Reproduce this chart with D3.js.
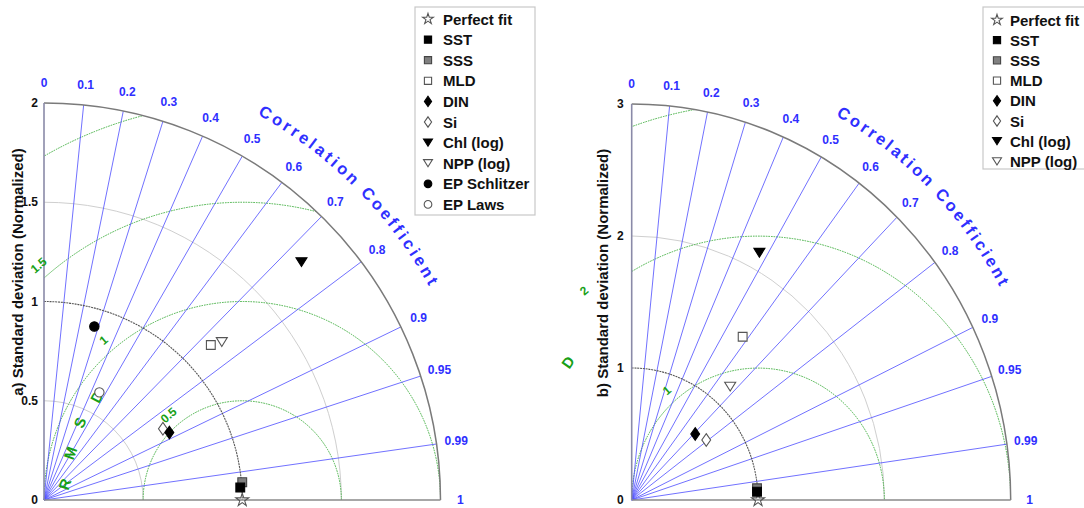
<!DOCTYPE html>
<html>
<head>
<meta charset="utf-8">
<script src="https://cdn.jsdelivr.net/npm/d3@7"></script>
<style>
  body { margin: 0; background: #fff; }
  svg { display: block; }
  text { font-family: "Liberation Sans", Arial, Helvetica, sans-serif; }
</style>
</head>
<body>
<svg id="chart" width="1084" height="508"></svg>
<script>
// ---- Data -------------------------------------------------------------
const corrTicks = [0, 0.1, 0.2, 0.3, 0.4, 0.5, 0.6, 0.7, 0.8, 0.9, 0.95, 0.99, 1];
const corrTickLabels = ["0", "0.1", "0.2", "0.3", "0.4", "0.5", "0.6", "0.7", "0.8", "0.9", "0.95", "0.99", "1"];

// Panel a: normalized standard deviation and correlation per variable
const seriesA = ["SST", "SSS", "MLD", "DIN", "Si", "Chl (log)", "NPP (log)", "EP Schlitzer", "EP Laws"];
const stdA    = [0.992, 1.004, 1.148, 0.718, 0.699, 1.767, 1.199, 0.910, 0.610];
const corrA   = [0.998, 0.996, 0.733, 0.881, 0.858, 0.735, 0.748, 0.279, 0.458];
const sdTicksA = [0, 0.5, 1, 1.5, 2];
const sdTickLabelsA = ["0", "0.5", "1", "1.5", "2"];
const rmsLevelsA = [0.5, 1, 1.5, 2];
const rmsLabelsA = [0.5, 1, 1.5];

// Panel b
const seriesB = ["SST", "SSS", "MLD", "DIN", "Si", "Chl (log)", "NPP (log)"];
const stdB    = [0.994, 0.996, 1.517, 0.709, 0.745, 2.128, 1.160];
const corrB   = [0.998, 0.996, 0.579, 0.709, 0.792, 0.475, 0.672];
const sdTicksB = [0, 1, 2, 3];
const sdTickLabelsB = ["0", "1", "2", "3"];
const rmsLevelsB = [1, 2, 3];
const rmsLabelsB = [1, 2];

const corrTitle = "Correlation Coefficient";

// ---- Styles -----------------------------------------------------------
const BLUE_LINE = "#4d4dff";
const BLUE_TEXT = "#2f2fff";
const GREEN_LINE = "#45b045";
const GREEN_TEXT = "#17a017";
const OPEN_STROKE = "#555";

const markerStyle = {
  "Perfect fit":  { shape: "star",     fill: "none",    stroke: OPEN_STROKE },
  "SST":          { shape: "square",   fill: "#000",    stroke: "#000" },
  "SSS":          { shape: "square",   fill: "#808080", stroke: "#444" },
  "MLD":          { shape: "square",   fill: "#fff",    stroke: OPEN_STROKE },
  "DIN":          { shape: "diamond",  fill: "#000",    stroke: "#000" },
  "Si":           { shape: "diamond",  fill: "#fff",    stroke: OPEN_STROKE },
  "Chl (log)":    { shape: "triangle", fill: "#000",    stroke: "#000" },
  "NPP (log)":    { shape: "triangle", fill: "#fff",    stroke: OPEN_STROKE },
  "EP Schlitzer": { shape: "circle",   fill: "#000",    stroke: "#000" },
  "EP Laws":      { shape: "circle",   fill: "#fff",    stroke: OPEN_STROKE }
};

function shapePath(shape, s) {
  // s: nominal marker size in px
  const h = s / 2;
  switch (shape) {
    case "square":   return `M${-h * 0.8},${-h * 0.8}H${h * 0.8}V${h * 0.8}H${-h * 0.8}Z`;
    case "diamond":  return `M0,${-h * 1.15}L${h * 0.8},0L0,${h * 1.15}L${-h * 0.8},0Z`;
    case "triangle": return `M${-h},${-h * 0.8}L${h},${-h * 0.8}L0,${h * 0.8}Z`;
    case "circle":   return d3.symbol(d3.symbolCircle, Math.PI * (h * 0.85) ** 2)();
    case "star":     return d3.symbol(d3.symbolStar, s * s * 0.36)();
  }
}

const svg = d3.select("#chart");

function drawMarker(g, name, cx, cy, s) {
  const st = markerStyle[name];
  g.append("path")
    .attr("d", shapePath(st.shape, s))
    .attr("transform", `translate(${cx},${cy})`)
    .attr("fill", st.fill)
    .attr("stroke", st.stroke)
    .attr("stroke-width", 1.1);
}

// Lay out a string letter by letter along a path, spread to fill its length
function textAlongPath(g, pathNode, str, attrs) {
  const L = pathNode.getTotalLength();
  const chars = str.split("");
  const tmp = g.append("text").attr("font-size", attrs.size).attr("font-weight", "bold");
  const widths = chars.map(ch => {
    tmp.text(ch === " " ? "\u00a0" : ch);
    return tmp.node().getComputedTextLength();
  });
  tmp.remove();
  const gap = (L - d3.sum(widths)) / (chars.length - 1);
  let pos = 0;
  chars.forEach((ch, i) => {
    const mid = pos + widths[i] / 2;
    const p = pathNode.getPointAtLength(mid);
    const pa = pathNode.getPointAtLength(Math.max(0, mid - 1));
    const pb = pathNode.getPointAtLength(Math.min(L, mid + 1));
    const ang = Math.atan2(pb.y - pa.y, pb.x - pa.x) * 180 / Math.PI;
    if (ch !== " ") {
      g.append("text")
        .attr("transform", `translate(${p.x},${p.y}) rotate(${ang})`)
        .attr("text-anchor", "middle")
        .attr("fill", attrs.fill).attr("font-size", attrs.size).attr("font-weight", "bold")
        .text(ch);
    }
    pos += widths[i] + gap;
  });
}

// ---- One Taylor diagram -------------------------------------------------
function drawPanel(cfg) {
  const g = svg.append("g");
  const x = d3.scaleLinear().domain([0, cfg.max]).range([cfg.x0, cfg.x1]);
  const y = d3.scaleLinear().domain([0, cfg.max]).range([cfg.y0, cfg.y1]);
  const kx = x(1) - x(0), ky = y(0) - y(1);
  const sinOf = c => Math.sqrt(Math.max(0, 1 - c * c));
  const px = (r, c) => x(r * c);
  const py = (r, c) => y(r * sinOf(c));
  const sdArc = r => `M${x(0)},${y(r)} A${r * kx},${r * ky} 0 0 1 ${x(r)},${y(0)}`;

  // clip region: the quarter disc of the diagram
  const clipId = "clip-" + cfg.id;
  g.append("clipPath").attr("id", clipId)
    .append("path")
    .attr("d", `M${x(0)},${y(0)} L${x(cfg.max)},${y(0)} A${cfg.max * kx},${cfg.max * ky} 0 0 0 ${x(0)},${y(cfg.max)} Z`);

  // light std-dev reference arcs
  cfg.sdTicks.filter(v => v > 0 && v < cfg.max && v !== 1).forEach(v => {
    g.append("path").attr("d", sdArc(v)).attr("fill", "none")
      .attr("stroke", "#cfcfcf").attr("stroke-width", 1);
  });

  // RMSD circles centred on the reference point
  const rms = g.append("g").attr("clip-path", `url(#${clipId})`);
  cfg.rmsLevels.forEach(R => {
    rms.append("path")
      .attr("d", `M${x(1 - R)},${y(0)} A${R * kx},${R * ky} 0 0 1 ${x(1 + R)},${y(0)}`)
      .attr("fill", "none").attr("stroke", GREEN_LINE)
      .attr("stroke-width", 1).attr("stroke-dasharray", "1.6,1");
  });

  // correlation rays
  corrTicks.filter(c => c > 0 && c < 1).forEach(c => {
    g.append("line")
      .attr("x1", x(0)).attr("y1", y(0))
      .attr("x2", px(cfg.max, c)).attr("y2", py(cfg.max, c))
      .attr("stroke", BLUE_LINE).attr("stroke-opacity", 0.8).attr("stroke-width", 1);
  });

  // reference std-dev arc (= 1)
  g.append("path").attr("d", sdArc(1)).attr("fill", "none")
    .attr("stroke", "#555").attr("stroke-width", 1.1).attr("stroke-dasharray", "2,0.8");

  // outer arc and axes
  g.append("path").attr("d", sdArc(cfg.max)).attr("fill", "none")
    .attr("stroke", "#7a7a7a").attr("stroke-width", 1.5);
  g.append("line").attr("x1", x(0)).attr("y1", y(0)).attr("x2", x(cfg.max)).attr("y2", y(0))
    .attr("stroke", "#8a8a8a").attr("stroke-width", 1.5);
  g.append("line").attr("x1", x(0)).attr("y1", y(0)).attr("x2", x(0)).attr("y2", y(cfg.max))
    .attr("stroke", "#8a8aa8").attr("stroke-width", 1.6);

  // correlation tick labels
  corrTicks.forEach((c, i) => {
    g.append("text")
      .attr("x", px(cfg.max * 1.05, c)).attr("y", py(cfg.max * 1.05, c))
      .attr("text-anchor", "middle").attr("dominant-baseline", "central")
      .attr("fill", BLUE_TEXT).attr("font-size", 12).attr("font-weight", "bold")
      .text(corrTickLabels[i]);
  });

  // curved correlation title
  const rt = cfg.max * 1.11;
  const a0 = 61 * Math.PI / 180, a1 = 29 * Math.PI / 180;
  const titlePath = g.append("path").attr("fill", "none")
    .attr("d", `M${x(rt * Math.cos(a0))},${y(rt * Math.sin(a0))} A${rt * kx},${rt * ky} 0 0 1 ${x(rt * Math.cos(a1))},${y(rt * Math.sin(a1))}`);
  textAlongPath(g, titlePath.node(), corrTitle, { size: 16.5, fill: BLUE_TEXT });

  // std-dev tick labels
  cfg.sdTicks.forEach((v, i) => {
    g.append("text")
      .attr("x", x(0) - cfg.tickPad).attr("y", y(v))
      .attr("text-anchor", "end").attr("dominant-baseline", "central")
      .attr("fill", "#111").attr("font-size", 12).attr("font-weight", "bold")
      .text(cfg.sdTickLabels[i]);
  });

  // RMSD level labels
  const la = 131 * Math.PI / 180;
  cfg.rmsLabels.forEach(R => {
    const d = R + 0.033 * cfg.max;
    g.append("text")
      .attr("transform", `translate(${x(1 + d * Math.cos(la))},${y(d * Math.sin(la))}) rotate(-41)`)
      .attr("text-anchor", "middle").attr("dominant-baseline", "central")
      .attr("fill", GREEN_TEXT).attr("font-size", 12).attr("font-weight", "bold")
      .text(R);
  });

  // "RMSD" letters
  cfg.rmsdLetters.forEach(L => {
    g.append("text")
      .attr("transform", `translate(${x(L.x)},${y(L.y)}) rotate(${L.rot})`)
      .attr("text-anchor", "middle").attr("dominant-baseline", "central")
      .attr("fill", GREEN_TEXT).attr("font-size", 15).attr("font-weight", "bold")
      .text(L.t);
  });

  // y-axis title
  g.append("text")
    .attr("transform", `translate(${cfg.titleX},${cfg.titleY}) rotate(-90)`)
    .attr("text-anchor", "middle").attr("dominant-baseline", "central")
    .attr("fill", "#111").attr("font-size", 15).attr("font-weight", "bold")
    .text(cfg.title);

  // data points (drawn last-to-first so earlier series sit on top)
  drawMarker(g, "Perfect fit", x(1), y(0), 12);
  const idx = d3.range(cfg.series.length).reverse();
  idx.forEach(i => {
    drawMarker(g, cfg.series[i], px(cfg.std[i], cfg.corr[i]), py(cfg.std[i], cfg.corr[i]), 11);
  });

  // legend
  const lg = svg.append("g");
  const names = ["Perfect fit"].concat(cfg.series);
  lg.append("rect")
    .attr("x", cfg.legend.x).attr("y", cfg.legend.y)
    .attr("width", cfg.legend.w).attr("height", cfg.legend.h)
    .attr("fill", "#fff").attr("stroke", "#c8c8c8").attr("stroke-width", 1.2);
  names.forEach((n, i) => {
    const cy = cfg.legend.y0 + i * cfg.legend.dy;
    drawMarker(lg, n, cfg.legend.sx, cy, n === "Perfect fit" ? 10 : 9);
    lg.append("text")
      .attr("x", cfg.legend.tx).attr("y", cy)
      .attr("dominant-baseline", "central")
      .attr("fill", "#111").attr("font-size", 15).attr("font-weight", "bold")
      .text(n);
  });
}

drawPanel({
  id: "a", max: 2, x0: 44, x1: 440.5, y0: 500, y1: 103,
  series: seriesA, std: stdA, corr: corrA,
  sdTicks: sdTicksA, sdTickLabels: sdTickLabelsA,
  rmsLevels: rmsLevelsA, rmsLabels: rmsLabelsA,
  rmsdLetters: [
    { t: "R", x: 0.105, y: 0.08, rot: -72 },
    { t: "M", x: 0.132, y: 0.237, rot: -70 },
    { t: "S", x: 0.18, y: 0.39, rot: -68 },
    { t: "D", x: 0.266, y: 0.52, rot: -62 }
  ],
  tickPad: 6, title: "a) Standard deviation (Normalized)", titleX: 17, titleY: 272,
  legend: { x: 415, y: 7, w: 120, h: 208, y0: 19, dy: 20.6, sx: 428, tx: 443 }
});

drawPanel({
  id: "b", max: 3, x0: 631.7, x1: 1010.7, y0: 500, y1: 104,
  series: seriesB, std: stdB, corr: corrB,
  sdTicks: sdTicksB, sdTickLabels: sdTickLabelsB,
  rmsLevels: rmsLevelsB, rmsLabels: rmsLabelsB,
  rmsdLetters: [
    { t: "D", x: -0.506, y: 1.045, rot: -55 }
  ],
  tickPad: 8, title: "b) Standard deviation (Normalized)", titleX: 602, titleY: 273,
  legend: { x: 983, y: 7, w: 110, h: 162, y0: 20, dy: 20.2, sx: 997, tx: 1010 }
});
</script>
</body>
</html>
